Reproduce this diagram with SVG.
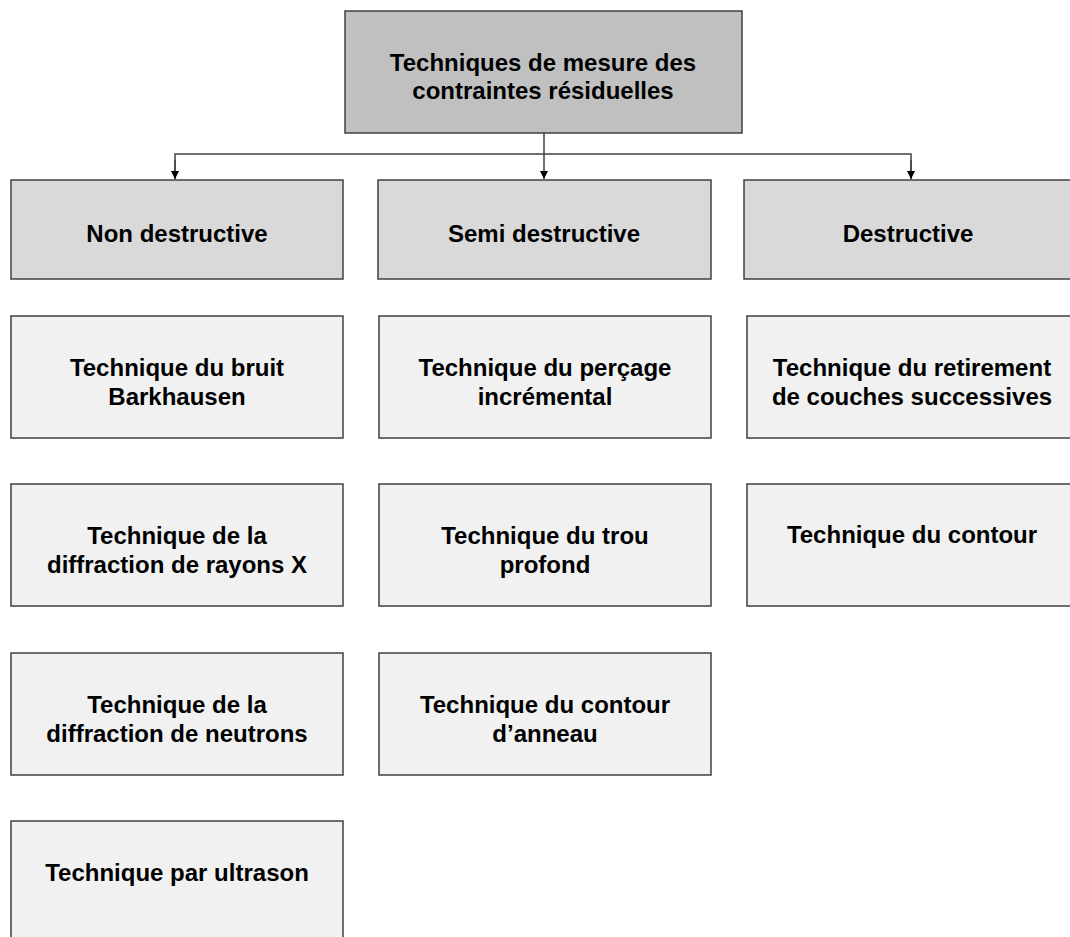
<svg xmlns="http://www.w3.org/2000/svg" width="1070" height="937" viewBox="0 0 1070 937">
<style>
  rect { stroke: #404040; stroke-width: 1.5; }
  .top { fill: #c0c0c0; }
  .cat { fill: #d9d9d9; }
  .tech { fill: #f1f1f1; }
  text { font-family: "Liberation Sans", Arial, sans-serif; font-weight: bold; font-size: 24px; fill: #000; text-anchor: middle; }
  .conn { fill: none; stroke: #404040; stroke-width: 1.5; }
</style>
<defs>
  <marker id="arr" viewBox="0 0 10 10" refX="10" refY="5" markerWidth="8" markerHeight="8" markerUnits="userSpaceOnUse" orient="auto">
    <path d="M0,0 L10,5 L0,10 Z" fill="#000"/>
  </marker>
</defs>
<rect width="1070" height="937" fill="#fff" style="stroke:none"/>
<g id="connectors">
  <line class="conn" x1="544" y1="133" x2="544" y2="179" marker-end="url(#arr)"/>
  <polyline class="conn" points="175,179 175,154 911,154 911,179" />
  <line class="conn" x1="175" y1="160" x2="175" y2="179" marker-end="url(#arr)"/>
  <line class="conn" x1="911" y1="160" x2="911" y2="179" marker-end="url(#arr)"/>
</g>
<g id="root">
  <rect class="top" x="345" y="11" width="397" height="122"/>
  <text x="543" y="71">Techniques de mesure des</text>
  <text x="543" y="99">contraintes résiduelles</text>
</g>
<g id="non-destructive">
  <rect class="cat" x="11" y="180" width="332" height="99"/>
  <text x="177" y="242">Non destructive</text>
</g>
<g id="semi-destructive">
  <rect class="cat" x="378" y="180" width="333" height="99"/>
  <text x="544" y="242">Semi destructive</text>
</g>
<g id="destructive">
  <rect class="cat" x="744" y="180" width="340" height="99"/>
  <text x="908" y="242">Destructive</text>
</g>
<g id="barkhausen">
  <rect class="tech" x="11" y="316" width="332" height="122"/>
  <text x="177" y="376">Technique du bruit</text>
  <text x="177" y="405">Barkhausen</text>
</g>
<g id="rayons-x">
  <rect class="tech" x="11" y="484" width="332" height="122"/>
  <text x="177" y="544">Technique de la</text>
  <text x="177" y="573">diffraction de rayons X</text>
</g>
<g id="neutrons">
  <rect class="tech" x="11" y="653" width="332" height="122"/>
  <text x="177" y="713">Technique de la</text>
  <text x="177" y="742">diffraction de neutrons</text>
</g>
<g id="ultrason">
  <rect class="tech" x="11" y="821" width="332" height="130"/>
  <text x="177" y="881">Technique par ultrason</text>
</g>
<g id="percage">
  <rect class="tech" x="379" y="316" width="332" height="122"/>
  <text x="545" y="376">Technique du perçage</text>
  <text x="545" y="405">incrémental</text>
</g>
<g id="trou-profond">
  <rect class="tech" x="379" y="484" width="332" height="122"/>
  <text x="545" y="544">Technique du trou</text>
  <text x="545" y="573">profond</text>
</g>
<g id="contour-anneau">
  <rect class="tech" x="379" y="653" width="332" height="122"/>
  <text x="545" y="713">Technique du contour</text>
  <text x="545" y="742">d’anneau</text>
</g>
<g id="retirement">
  <rect class="tech" x="747" y="316" width="340" height="122"/>
  <text x="912" y="376">Technique du retirement</text>
  <text x="912" y="405">de couches successives</text>
</g>
<g id="contour">
  <rect class="tech" x="747" y="484" width="340" height="122"/>
  <text x="912" y="543">Technique du contour</text>
</g>
</svg>
